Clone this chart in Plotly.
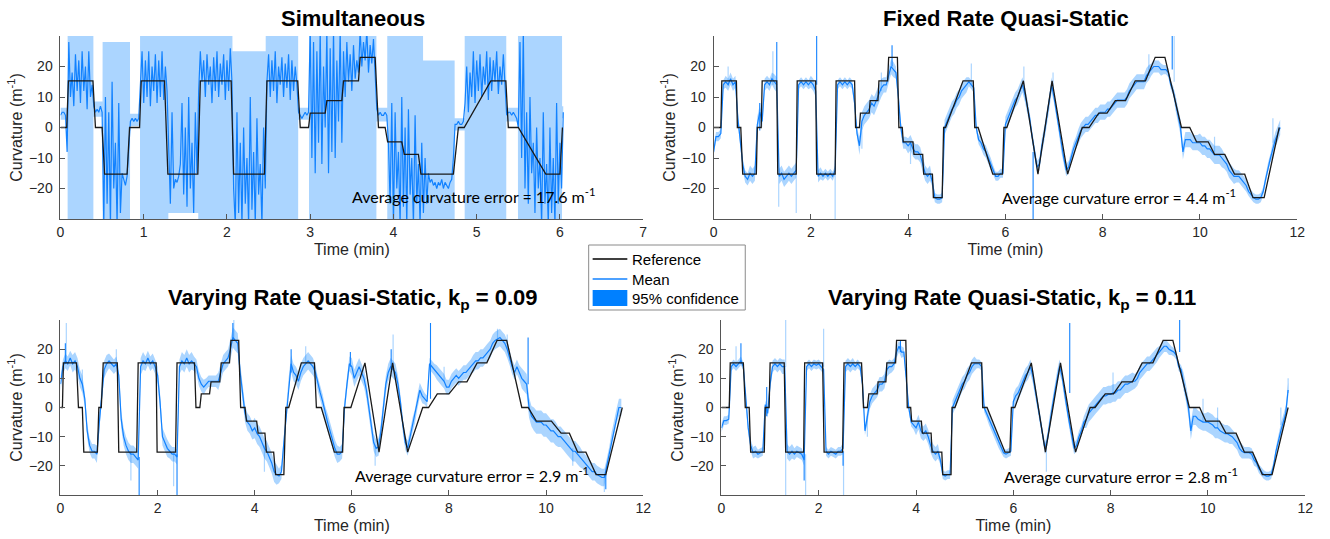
import plotly.graph_objects as go

# ------------------------------------------------------------------ data
SIM_DT = 0.02   # sampling step (min) of the Simultaneous mean
QS_DT = 0.05    # sampling step (min) of the quasi-static means
HW_BLOCK = 0.25 # the confidence half-widths are read per quarter minute

# ---- Simultaneous
sim_mean = [4, 5, 5, 4, -8,
            28, 10, 18, 7, 24, 12, 22, 8, 25, 12, 20, 6, 25, 10, 14,
            7, 5, 6, 5, 7, 5,
            -32, 10, -25, 5, -32, 15, -20, -5, -32, 8, -28, -15, -17, -19, -16, -8,
            2, 3, 2, 3, 2, 3,
            15, 25, 8, 22, 10, 25, 7, 20, 12, 24, 8, 22, 10, 25, 9, 20, 12,
            -10, -25, 5, -20, -17, -18, -16, -12, 8, -22, 0, -26, 10, -20, -5, -28, 5, -15,
            12, 25, 15, 22, 10, 24, 14, 20, 8, 23, 12, 25, 10, 21, 14, 24, 9, 22, 12, 26, 15,
            -20, -32, 5, -28, -5, -32, 0, -25, -10, -32, 10, -27, -8, -32, 3, -22, -12, -32, 0, -20,
            15, 24, 10, 22, 12, 25, 8, 20, 14, 23, 10, 21, 13, 24, 9, 22, 12, 20, 14,
            5, 4, 3, 4, 5, 4, 5,
            32, -10, 28, -15, 25, -5, 32, -12, 20, 0, 32, -15, 26, -8, 32, -10, 22, 2, 32, -5,
            25, 10, 28, 15, 24, 12, 27, 16, 22, 18,
            32, 20, 28, 22, 32, 18, 27, 21, 29, 15,
            6, 4, 5, 4, 4, 5, 4,
            -5, -25, 8, -32, 5, -20, -8, -32, 10, -26, 0, -32, 6, -22, -10, -32, 4, -25, -12, -32, -5,
            -28, -10, -25, -15, -18, -17, -19, -18, -20, -18, -19, -17, -20, -18, -19, -20, -18, -17, -10,
            1, 1, 2, 1, 1, 2,
            8, 20, 5, 18, 10, 25, 8, 22, 12, 24, 10, 20, 14, 25, 9, 23, 12, 22, 15, 25, 11, 20, 14, 24, 12,
            4, 5, 5, 4, 5, 4, 3,
            0, 28, -10, 32, -20, 5, -25, 10, -15, -5, -28, 0, -20, -10, -32, 5, -25, -12, -32, 0, -28, -10, -32, 8, -25, -5, -20,
            5]
sim_band_t = [0, 0.085, 0.086, 0.395, 0.396, 0.505, 0.506, 0.835, 0.836, 0.955, 0.956, 1.295, 1.296, 1.655,
              1.656, 2.065, 2.066, 2.465, 2.466, 2.855, 2.856, 2.985, 2.986, 3.795, 3.796, 3.925, 3.926, 4.355,
              4.356, 4.735, 4.736, 4.855, 4.856, 5.355, 5.356, 5.495, 5.496, 6.025, 6.026, 6.04]
sim_band_lo = [2.5, 2.5, -40, -40, 3.5, 3.5, -40, -40, 0.5, 0.5, -40, -40, -28, -28, -40, -40, -40, -40, -40, -40,
               2.5, 2.5, -40, -40, 2, 2, -40, -40, -40, -40, -1, -1, -40, -40, 2, 2, -40, -40, 3, 3]
sim_band_hi = [6.5, 6.5, 40, 40, 8.5, 8.5, 28, 28, 4.5, 4.5, 40, 40, 40, 40, 40, 40, 25, 25, 40, 40,
               6.5, 6.5, 40, 40, 6.5, 6.5, 40, 40, 22, 22, 3, 3, 40, 40, 6.5, 6.5, 40, 40, 7, 7]
sim_ref_t = [0, 0.075, 0.095, 0.39, 0.42, 0.5, 0.53, 0.8, 0.83, 0.95, 0.97, 1.25, 1.29, 1.65, 1.68, 2.05, 2.08,
             2.45, 2.48, 2.85, 2.88, 2.98, 3.0, 3.18, 3.2, 3.38, 3.4, 3.58, 3.6, 3.78, 3.82, 3.9, 3.93, 4.1, 4.13,
             4.3, 4.33, 4.72, 4.78, 4.85, 5.17, 5.35, 5.38, 5.5, 5.83, 6.0, 6.03]
sim_ref_k = [0, 0, 15.3, 15.3, 0, 0, -15.3, -15.3, 0, 0, 15.3, 15.3, -15.3, -15.3, 15.3, 15.3, -15.3, -15.3,
             15.3, 15.3, 0, 0, 4.7, 4.7, 8.8, 8.8, 15.3, 15.3, 23, 23, 0, 0, -4.7, -4.7, -8.8, -8.8, -15.3,
             -15.3, 0, 0, 15.3, 15.3, 0, 0, -15.3, -15.3, 0]

# reference trajectory levels shared by the three quasi-static runs
qs_ref_k = [0, 0, 15.3, 15.3, 0, 0, -15.3, -15.3, 0, 0, 15.3, 15.3, -15.3, -15.3, 15.3, 15.3, -15.3, -15.3,
            15.3, 15.3, 0, 0, 4.7, 4.7, 8.8, 8.8, 15.3, 15.3, 23, 23, 0, 0, -4.7, -4.7, -8.8, -8.8, -15.3,
            -15.3, -23, -23, 0, 0, 15.3, 15.3, 0, 0, -15.3, -15.3, 0, 0, 15.3, -15.3, 15.3, -15.3, 0, 0, 4.7,
            4.7, 8.8, 8.8, 15.3, 15.3, 23, 23, 0, 0, -4.7, -4.7, -8.8, -8.8, -15.3, -15.3, -23, -23, 0]

# ---- Fixed Rate Quasi-Static
fixed_mean = [
    -8, -3, -3, -2, 14, 15, 14, 16, 14, 15, 3, -4, -12, -16, -17, -15, -16, -15, 1, 5,
    2, 14, 15, 14, 16, 15, 14, -16, -15, -17, -16, -15, -16, -15, -14, 14, 15, 14, 15, 14,
    15, 14, 12, -16, -15, -16, -15, -16, -15, -16, -14, 14, 15, 14, 15, 14, 15, 14, 8, -2,
    -6, 2, 4, 5, 6, 8, 7, 9, 11, 13, 14, 14, 17, 20, 19, 18, 10, 0, -5, -5,
    -6, -5, -7, -8, -8, -9, -12, -15, -16, -15, -18, -23, -23.5, -23.5, -23, 0, 2, 4, 6, 7,
    9, 10, 12, 13, 14, 15, 14, 13, 0, -4, -5, -7, -8, -10, -12, -14, -16, -16, -15, -15,
    1, 3, 5, 7, 9, 10, 12, 14, 11, 7, 3, -3, -8, -13, -12, -6, -2, 3, 8, 14,
    10, 5, 0, -6, -10, -14, -13, -10, -7, -5, -3, -1, 0, 1, 1, 2, 3, 4, 4, 5,
    5, 5, 6, 6, 7, 8, 9, 9, 9, 9, 10, 12, 13, 14, 15, 15, 15, 15, 17, 18,
    19, 20, 20, 20, 19, 19, 19, 18, 14, 12, 8, 4, 0, -8, -4, -4, -4, -5, -5, -5,
    -5, -6, -6, -7, -7, -8, -9, -9, -9, -10, -11, -12, -14, -15, -16, -16, -16, -17, -18, -19,
    -21, -22, -23, -23.5, -23.5, -23, -21, -17, -13, -10, -7, -4, -2, 0]
fixed_hw = [1.5, 2, 2, 2.5, 2, 2.5, 2.5, 1.5, 2, 1.5, 1.5, 1.5, 3, 3, 2.5, 2, 2.5, 2.5, 1.5, 2.5, 2.5, 1.5, 2, 1.5,
            2.5, 2.5, 2, 2.5, 2, 2, 2.5, 2.5, 2.5, 2.5, 2.5, 2.5, 2, 1.5, 2.5, 2.5, 3, 3, 2.5, 2, 1.5, 1.5, 2.5]
fixed_ref_t = [0, 0.15, 0.17, 0.47, 0.49, 0.56, 0.6, 0.88, 0.9, 0.98, 1.0, 1.3, 1.32, 1.7, 1.72, 2.1, 2.12, 2.5,
               2.52, 2.9, 2.92, 3.0, 3.02, 3.2, 3.22, 3.38, 3.4, 3.58, 3.6, 3.78, 3.81, 3.88, 3.9, 4.1, 4.12, 4.3,
               4.32, 4.5, 4.52, 4.7, 4.73, 4.77, 5.13, 5.34, 5.37, 5.44, 5.74, 5.94, 5.97, 6.03, 6.37, 6.67,
               6.96, 7.28, 7.58, 7.72, 7.92, 8.09, 8.26, 8.47, 8.67, 8.88, 9.08, 9.28, 9.62, 9.79, 9.93, 10.17,
               10.3, 10.51, 10.71, 10.92, 11.09, 11.32, 11.63]
fixed_spk_t = [0.95, 1.30, 2.12, 3.67, 6.57, 9.43]
fixed_spk_from = [-1, 14, 14, 20, -8, 19]
fixed_spk_to = [8, 28, 31, 27, -31, 31]
fixed_lspk_t = [0.30, 1.22, 1.34, 1.70, 2.50, 3.05, 3.45, 4.05, 5.30, 6.38, 6.98, 8.95, 9.47, 10.30, 11.50]
fixed_lspk_from = [14, 14, -15, -15, -15, 0, 12, -5, 14, 12, 12, 17, 15, -8, -5]
fixed_lspk_to = [20, 25, -26, -28, -31, -7, 18, -12, 21, 20, 18, 24, 31, -3, 3]

# ---- Varying Rate Quasi-Static, kp = 0.09
v09_mean = [
    8, 14, 16, 15, 17, 15, 16, 14, 10, 8, 3, -8, -13, -15, -15, -16, -5, 5, 13, 15,
    16, 15, 14, 15, 11, -4, -10, -13, -15, -16, -16, -17, -18, 14, 16, 15, 17, 15, 16, 14,
    11, 2, -10, -12, -14, -15, -16, -16, -17, 14, 16, 15, 17, 15, 16, 15, 14, 10, 8, 7,
    8, 9, 9, 9, 9, 9, 12, 15, 16, 17, 20, 24, 23, 22, 12, 5, -2, -5, -6, -8,
    -7, -9, -10, -12, -14, -15, -17, -19, -22, -23, -23.5, -22, -12, -2, 8, 15, 12, 11, 9, 12,
    14, 15, 16, 15, 14, 12, 8, 5, 2, -2, -5, -8, -11, -14, -16, -16, -15, 0, 8, 15,
    14, 10, 12, 14, 12, 10, 6, 0, -6, -12, -14, -13.5, -8, 0, 8, 12, 14, 13, 12, 8,
    2, -6, -12, -14, -10, -6, -3, 2, 6, 4, 3, 2, 15, 14, 13, 12, 11, 10, 9, 7,
    7, 9, 10, 11, 10, 11, 12, 12, 13, 14, 15, 16, 16, 17, 17, 18, 19, 20, 22, 23,
    23.5, 24, 23, 22, 20, 17, 14, 12, 14, 12, 10, 9, 8, 0, -3, -4, -5, -5, -5, -6,
    -6, -7, -8, -8, -9, -10, -10, -11, -12, -13, -14, -15, -15, -16, -17, -18, -19, -20, -21, -22,
    -22, -23, -23.5, -24, -24, -20, -16, -11, -7, -3, 0, 0]
v09_hw = [2.5, 3, 2.5, 3, 2.5, 3, 3, 2.5, 3, 2.5, 3, 2.5, 2, 3, 3.5, 3, 3.5, 3.5, 2.5, 3, 3, 2.5, 3, 2.5,
          3, 3, 3, 3, 2.5, 2.5, 2, 2.5, 2.5, 2.5, 3, 3, 3, 2.5, 3.5, 4, 4, 3.5, 3.5, 3, 3, 2.5, 3]
v09_ref_t = [0, 0.04, 0.06, 0.33, 0.37, 0.45, 0.48, 0.76, 0.79, 0.84, 0.88, 1.17, 1.2, 1.57, 1.6, 1.97, 1.99,
             2.37, 2.4, 2.76, 2.79, 2.87, 2.9, 3.07, 3.1, 3.28, 3.31, 3.48, 3.51, 3.67, 3.71, 3.8, 3.83, 4.04,
             4.07, 4.21, 4.24, 4.39, 4.43, 4.6, 4.64, 4.7, 4.96, 5.23, 5.27, 5.37, 5.64, 5.81, 5.84, 5.98, 6.27,
             6.56, 6.84, 7.15, 7.46, 7.58, 7.76, 8.0, 8.2, 8.37, 8.58, 8.78, 8.99, 9.19, 9.5, 9.63, 9.8, 10.11,
             10.31, 10.48, 10.65, 10.82, 11.03, 11.23, 11.57]
v09_spk_t = [0.10, 1.62, 2.40, 3.55, 4.75, 5.97, 6.81, 7.62, 9.63, 11.23]
v09_spk_from = [15, -17, -16, 23, 12, 14, 13, 3, 8, -23]
v09_spk_to = [22, -31, -31, 29, 20, 19, 20, 29, 24, -28]
v09_lspk_t = [0.12, 0.45, 1.15, 1.45, 2.33, 3.57, 4.2, 5.05, 6.48, 6.85, 7.9, 9.0, 9.2, 10.55, 11.2]
v09_lspk_from = [15, 8, 14, -15, -15, 23, -13, 15, -13, 13, 9, 23, 20, -14, -23]
v09_lspk_to = [29, 13, 20, -25, -27, 31, -22, 21, -20, 25, 14, 27, 25, -20, -29]

# ---- Varying Rate Quasi-Static, kp = 0.11
v11_mean = [
    -7, -4.5, -4.5, -4, 14, 15, 14, 15, 16, 14, 2, -7, -13, -15.5, -15, -16, -15.5, -15, 1, -2,
    8, 14, 15, 14, 15, 14, 14, -15, -16, -15, -16, -15, -15.5, -16, -18, 14, 15, 14, 15, 14.5,
    15, 14, 13, -15, -16, -15, -15.5, -16, -15, -15, -14, 14, 15, 14, 15, 14, 15, 14, 8, -8,
    -3, 2, 4, 5, 6, 8, 8, 9, 13, 14, 14, 15, 19, 21, 19, 19, 10, 0, -5, -6,
    -7, -5, -8, -9, -8, -10, -13, -15, -16, -15, -18, -23, -23.5, -23, -23, 0, 2, 4, 6, 8,
    9, 11, 12, 14, 15, 15, 15, 14, 0, -2, -4, -6, -8, -10, -12, -14, -15.5, -16, -15.5, -15,
    2, 4, 5, 7, 9, 11, 12, 14, 11, 6, 1, -4, -9, -14, -11, -5, 0, 5, 10, 14,
    11, 5, 0, -5, -10, -14, -13, -10, -8, -5, -4, -2, -1, 0, 1, 2, 3, 4, 4, 4.5,
    4.5, 5, 5, 6, 6, 7, 8, 8, 8.5, 9, 9, 10, 12, 13, 14, 15, 15, 16, 17, 18,
    19, 20, 21, 21, 20, 19.5, 19, 18, 14, 13, 9, 5, 0, -8, -3, -3, -4, -4.5, -5, -5,
    -5, -5.5, -6, -7, -7, -8, -8.5, -9, -9, -9.5, -10, -11, -12, -14, -15, -15.5, -15.5, -15.5, -16, -18,
    -19, -21, -22, -23, -23.5, -23.5, -23, -20, -15, -11, -8, -5, -2, 6]
v11_hw = [1.5, 1.5, 2, 1.5, 2, 2.5, 2, 1.5, 1.5, 1.5, 2, 1.5, 2.5, 2.5, 2, 1.5, 2.5, 2.5, 1.5, 2.5, 2.5, 1.5, 2,
          1.5, 2.5, 2.5, 2, 2.5, 2, 2, 3, 3, 3, 3, 2.5, 2.5, 2, 1.5, 3, 3, 3.5, 3, 2.5, 2, 1.5, 1.5, 2.5]
v11_ref_t = [0, 0.16, 0.18, 0.45, 0.49, 0.57, 0.6, 0.88, 0.9, 0.98, 1.0, 1.29, 1.32, 1.69, 1.71, 2.08, 2.11,
             2.49, 2.52, 2.88, 2.92, 3.0, 3.03, 3.2, 3.22, 3.38, 3.4, 3.58, 3.6, 3.79, 3.82, 3.89, 3.91, 4.11,
             4.13, 4.31, 4.33, 4.53, 4.55, 4.72, 4.74, 4.8, 5.14, 5.35, 5.37, 5.46, 5.83, 5.93, 5.96, 6.03,
             6.37, 6.66, 6.97, 7.28, 7.58, 7.68, 7.89, 8.06, 8.23, 8.45, 8.65, 8.87, 9.08, 9.28, 9.62, 9.83,
             9.96, 10.24, 10.37, 10.58, 10.75, 10.92, 11.12, 11.32, 11.65]
v11_spk_t = [0.40, 0.93, 1.70, 2.50, 3.68, 7.16, 9.42]
v11_spk_from = [15, -3, -15, -15, 19, 5, 19]
v11_spk_to = [22, 7, -25, -20, 23, 29, 31]
v11_lspk_t = [0.30, 1.32, 1.32, 1.73, 2.10, 2.51, 3.0, 6.68, 8.05, 9.9, 10.2, 11.5, 11.65]
v11_lspk_from = [14, 14, -15, -16, 14, -15, -3, -12, 5, -5, -7, -6, 5]
v11_lspk_to = [21, 31, -31, -31, 27, -31, -10, -22, 12, 3, 0, 0, 10]

errors = ["17.6", "4.4", "2.9", "2.8"]
titles = ["Simultaneous", "Fixed Rate Quasi-Static",
          "Varying Rate Quasi-Static, k<sub>p</sub> = 0.09",
          "Varying Rate Quasi-Static, k<sub>p</sub> = 0.11"]
legend_labels = ["Reference", "Mean", "95% confidence"]

# ------------------------------------------------------------------ style
W, H = 1330, 539
BLUE = "#1282ff"
BAND = "rgba(0,128,255,0.33)"
AX = "#555555"
FONT = "Liberation Sans, Arial, sans-serif"


def px(x):
    return x / W


def py(y):
    return 1 - y / H


fig = go.Figure()


def sample_times(vals, dt):
    return [round(i * dt, 4) for i in range(len(vals))]


def segs(ts, a, b):
    xs, ys = [], []
    for t, p, q in zip(ts, a, b):
        xs += [t, t, None]
        ys += [p, q, None]
    return xs, ys


def add_qs(n, mean, hw, ref_t, spk, lspk):
    xa, ya = ("x", "y") if n == 1 else ("x%d" % n, "y%d" % n)
    ts = sample_times(mean, QS_DT)
    h = [hw[min(int(t / HW_BLOCK + 1e-9), len(hw) - 1)] for t in ts]
    up = [m + d for m, d in zip(mean, h)]
    lo = [m - d for m, d in zip(mean, h)]
    fig.add_trace(go.Scatter(x=ts + ts[::-1], y=up + lo[::-1], fill="toself", fillcolor=BAND,
                             mode="none", showlegend=False, hoverinfo="skip", xaxis=xa, yaxis=ya))
    sx, sy = segs(*lspk)
    fig.add_trace(go.Scatter(x=sx, y=sy, mode="lines", line=dict(color=BAND, width=1.2),
                             showlegend=False, hoverinfo="skip", xaxis=xa, yaxis=ya))
    fig.add_trace(go.Scatter(x=ts, y=mean, mode="lines", line=dict(color=BLUE, width=1.2),
                             showlegend=False, xaxis=xa, yaxis=ya))
    sx, sy = segs(*spk)
    fig.add_trace(go.Scatter(x=sx, y=sy, mode="lines", line=dict(color=BLUE, width=1.1),
                             showlegend=False, hoverinfo="skip", xaxis=xa, yaxis=ya))
    fig.add_trace(go.Scatter(x=ref_t, y=qs_ref_k, mode="lines", line=dict(color="#1a1a1a", width=1.3),
                             showlegend=False, xaxis=xa, yaxis=ya))


# ---- panel 1 (Simultaneous)
ts = sample_times(sim_mean, SIM_DT)
fig.add_trace(go.Scatter(x=sim_band_t + sim_band_t[::-1], y=sim_band_hi + sim_band_lo[::-1], fill="toself",
                         fillcolor=BAND, mode="none", showlegend=False, hoverinfo="skip"))
fig.add_trace(go.Scatter(x=ts, y=sim_mean, mode="lines", line=dict(color=BLUE, width=1.2), showlegend=False))
fig.add_trace(go.Scatter(x=sim_ref_t, y=sim_ref_k, mode="lines", line=dict(color="#1a1a1a", width=1.3),
                         showlegend=False))

add_qs(2, fixed_mean, fixed_hw, fixed_ref_t,
       (fixed_spk_t, fixed_spk_from, fixed_spk_to), (fixed_lspk_t, fixed_lspk_from, fixed_lspk_to))
add_qs(3, v09_mean, v09_hw, v09_ref_t,
       (v09_spk_t, v09_spk_from, v09_spk_to), (v09_lspk_t, v09_lspk_from, v09_lspk_to))
add_qs(4, v11_mean, v11_hw, v11_ref_t,
       (v11_spk_t, v11_spk_from, v11_spk_to), (v11_lspk_t, v11_lspk_from, v11_lspk_to))

# ------------------------------------------------------------------ axes
xdom = {1: (57, 645), 2: (716, 1305), 3: (57, 645), 4: (724, 1313)}
ydom = {1: (36, 219), 2: (36, 219), 3: (320, 495), 4: (320, 495)}

common = dict(showline=True, linecolor=AX, linewidth=1, ticks="inside", ticklen=5, tickcolor=AX,
              showgrid=False, zeroline=False, mirror=False,
              tickfont=dict(family=FONT, size=14, color="#262626"))
layout = {}
for n in range(1, 5):
    s = "" if n == 1 else str(n)
    xr = [0, 7] if n == 1 else [0, 12]
    xt = list(range(0, 8)) if n == 1 else list(range(0, 13, 2))
    layout["xaxis" + s] = dict(common, domain=[px(xdom[n][0]), px(xdom[n][1])], range=xr,
                               tickvals=xt, anchor="y" + s,
                               title=dict(text="Time (min)", font=dict(family=FONT, size=16, color="#262626"),
                                          standoff=5))
    layout["yaxis" + s] = dict(common, domain=[py(ydom[n][1]), py(ydom[n][0])], range=[-30, 30],
                               tickvals=[-20, -10, 0, 10, 20], anchor="x" + s, ticklabelstandoff=4,
                               title=dict(text="Curvature (m<sup>-1</sup>)",
                                          font=dict(family=FONT, size=16, color="#262626"), standoff=2))

fig.update_layout(**layout)

# ------------------------------------------------------------------ texts
title_pos = [(352, 18), (1011, 18), (352, 299), (1017, 299)]
err_pos = [(349, 195), (1005, 196), (352, 474), (1007, 475)]
ann = []
for i in range(4):
    ann.append(dict(x=px(title_pos[i][0]), y=py(title_pos[i][1]), xref="paper", yref="paper",
                    text="<b>%s</b>" % titles[i], showarrow=False, xanchor="center", yanchor="middle",
                    font=dict(family=FONT, size=22, color="#000000")))
    ann.append(dict(x=px(err_pos[i][0]), y=py(err_pos[i][1]), xref="paper", yref="paper",
                    text="Average curvature error = %s m<sup>-1</sup>" % errors[i], showarrow=False,
                    xanchor="left", yanchor="middle", font=dict(family="Lato, Open Sans, sans-serif", size=16,
                                                               color="#000000")))

# ---- legend box (drawn by hand to match the MATLAB legend geometry)
LEG_BOX = (590, 245, 748, 310)
LEG_ROWS = [259, 279, 298]
shapes = [dict(type="rect", xref="paper", yref="paper", x0=px(LEG_BOX[0]), x1=px(LEG_BOX[2]),
               y0=py(LEG_BOX[3]), y1=py(LEG_BOX[1]), line=dict(color="#8a8a8a", width=1),
               fillcolor="white", layer="above"),
          dict(type="line", xref="paper", yref="paper", x0=px(594), x1=px(629), y0=py(LEG_ROWS[0]),
               y1=py(LEG_ROWS[0]), line=dict(color="#000000", width=1.5), layer="above"),
          dict(type="line", xref="paper", yref="paper", x0=px(594), x1=px(629), y0=py(LEG_ROWS[1]),
               y1=py(LEG_ROWS[1]), line=dict(color=BLUE, width=1.5), layer="above"),
          dict(type="rect", xref="paper", yref="paper", x0=px(594), x1=px(629), y0=py(LEG_ROWS[2] + 8),
               y1=py(LEG_ROWS[2] - 8), line=dict(width=0), fillcolor="#0080ff", layer="above")]
for lab, yy in zip(legend_labels, LEG_ROWS):
    ann.append(dict(x=px(632), y=py(yy), xref="paper", yref="paper", text=lab, showarrow=False,
                    xanchor="left", yanchor="middle", font=dict(family=FONT, size=15, color="#000000")))

fig.update_layout(
    width=W, height=H, autosize=False,
    margin=dict(l=0, r=0, t=0, b=0),
    paper_bgcolor="white", plot_bgcolor="white",
    annotations=ann, shapes=shapes,
    showlegend=False,
)

fig.write_html("out.html")
